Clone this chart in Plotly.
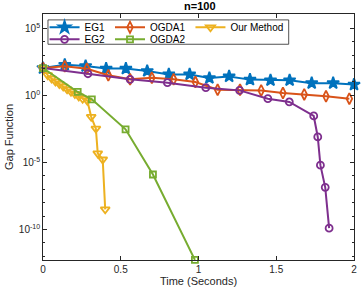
import plotly.graph_objects as go

# ---- data (time in seconds, gap function values) ----
eg1_t = [0, 0.14, 0.274, 0.406, 0.533, 0.67, 0.809, 0.943, 1.07, 1.197, 1.331, 1.463, 1.586, 1.728, 1.866, 2.0]
eg1_y = [107, 190, 151, 98, 98, 65, 36, 36, 19.5, 25.7, 14.8, 13.2, 13.2, 8.1, 8.1, 6.3]

ogda1_t = [0, 0.14, 0.282, 0.42, 0.56, 0.70, 0.84, 0.98, 1.123, 1.267, 1.403, 1.543, 1.68, 1.82, 1.97]
ogda1_y = [107, 145, 95, 31, 15.5, 20.4, 15.5, 9.8, 2.6, 2.6, 2.3, 1.48, 1.17, 0.85, 0.56]

eg2_t = [0, 0.289, 0.56, 0.80, 1.047, 1.264, 1.446, 1.584, 1.741, 1.767, 1.784, 1.815, 1.84]
eg2_y = [107, 40.7, 15.5, 8.7, 3.7, 2.34, 0.56, 0.32, 0.029, 7.9e-4, 6.3e-6, 1.4e-7, 1.26e-10]

ogda2_t = [0, 0.223, 0.314, 0.531, 0.707, 0.977]
ogda2_y = [107, 1.78, 0.5, 2.95e-3, 1.26e-6, 5.5e-13]

our_t = [0, 0.03, 0.055, 0.08, 0.105, 0.13, 0.155, 0.18, 0.205, 0.23, 0.255, 0.285, 0.31, 0.34, 0.352, 0.384, 0.40]
our_y = [107, 31.6, 17.8, 10.5, 7.1, 4.5, 2.8, 1.86, 1.26, 0.83, 0.56, 0.4, 0.025, 3.3e-3, 4.7e-5, 1.66e-5, 3.2e-9]

x_ticks = [0, 0.5, 1, 1.5, 2]
x_tick_labels = ["0", "0.5", "1", "1.5", "2"]
y_ticks = [1e5, 1, 1e-5, 1e-10]
y_tick_labels = ["10<sup>5</sup>", "10<sup>0</sup>", "10<sup>-5</sup>", "10<sup>-10</sup>"]
y_minor = [10.0 ** k for k in range(-12, 7)]

series = [
    # name, t, y, colour, symbol, size, legend row
    ("EG1", eg1_t, eg1_y, "#0072BD", "star", 9, "legend"),
    ("OGDA1", ogda1_t, ogda1_y, "#D95319", "diamond-tall-open", 8, "legend"),
    ("Our Method", our_t, our_y, "#EDB120", "triangle-down-open", 8, "legend"),
    ("EG2", eg2_t, eg2_y, "#7E2F8E", "circle-open", 7, "legend2"),
    ("OGDA2", ogda2_t, ogda2_y, "#77AC30", "square-open", 6, "legend2"),
]

fig = go.Figure()
for name, t, y, col, sym, sz, leg in series:
    fig.add_trace(go.Scatter(
        x=t, y=y, name=name, mode="lines+markers",
        line=dict(color=col, width=2),
        marker=dict(symbol=sym, size=sz, color=col, line=dict(color=col, width=1.8)),
        legend=leg, cliponaxis=False,
    ))

axis_col = "#262626"
font_fam = "Liberation Sans, Arial, sans-serif"

leg_common = dict(orientation="h", xanchor="left", yanchor="middle",
                  bgcolor="rgba(0,0,0,0)", borderwidth=0,
                  font=dict(size=10, color="black"), itemwidth=30,
                  tracegroupgap=0)

fig.update_layout(
    width=362, height=294,
    margin=dict(l=43, r=5, t=14, b=34),
    paper_bgcolor="white", plot_bgcolor="white",
    font=dict(family=font_fam, size=10, color=axis_col),
    title=dict(text="<b>n=100</b>", x=0.552, xanchor="center", y=0.992, yanchor="top",
               font=dict(size=11, color="black")),
    showlegend=True,
    legend=dict(x=0.005, y=0.946, **leg_common),
    legend2=dict(x=0.005, y=0.897, **leg_common),
    shapes=[dict(type="rect", xref="paper", yref="paper",
                 x0=0.016, x1=0.79, y0=0.877, y1=0.976,
                 line=dict(color=axis_col, width=0.8), fillcolor="white", layer="above")],
)

fig.update_xaxes(
    range=[0, 2], tickvals=x_ticks, ticktext=x_tick_labels,
    ticks="inside", ticklen=4, tickcolor=axis_col, showgrid=False, zeroline=False,
    showline=True, linecolor=axis_col, linewidth=0.8, mirror="ticks",
    title=dict(text="Time (Seconds)", standoff=3, font=dict(size=11)),
    tickfont=dict(size=10),
)
fig.update_yaxes(
    type="log", range=[-12.27, 6.06], tickvals=y_ticks, ticktext=y_tick_labels,
    ticks="inside", ticklen=4, tickcolor=axis_col, showgrid=False, zeroline=False,
    showline=True, linecolor=axis_col, linewidth=0.8, mirror="ticks",
    minor=dict(tickvals=y_minor, ticks="inside", ticklen=2.5, tickcolor=axis_col, showgrid=False),
    title=dict(text="Gap Function", standoff=2, font=dict(size=11)),
    tickfont=dict(size=10),
)

fig.write_html("out.html", config={"displayModeBar": False},
               post_script="document.body.style.margin='0px';")
